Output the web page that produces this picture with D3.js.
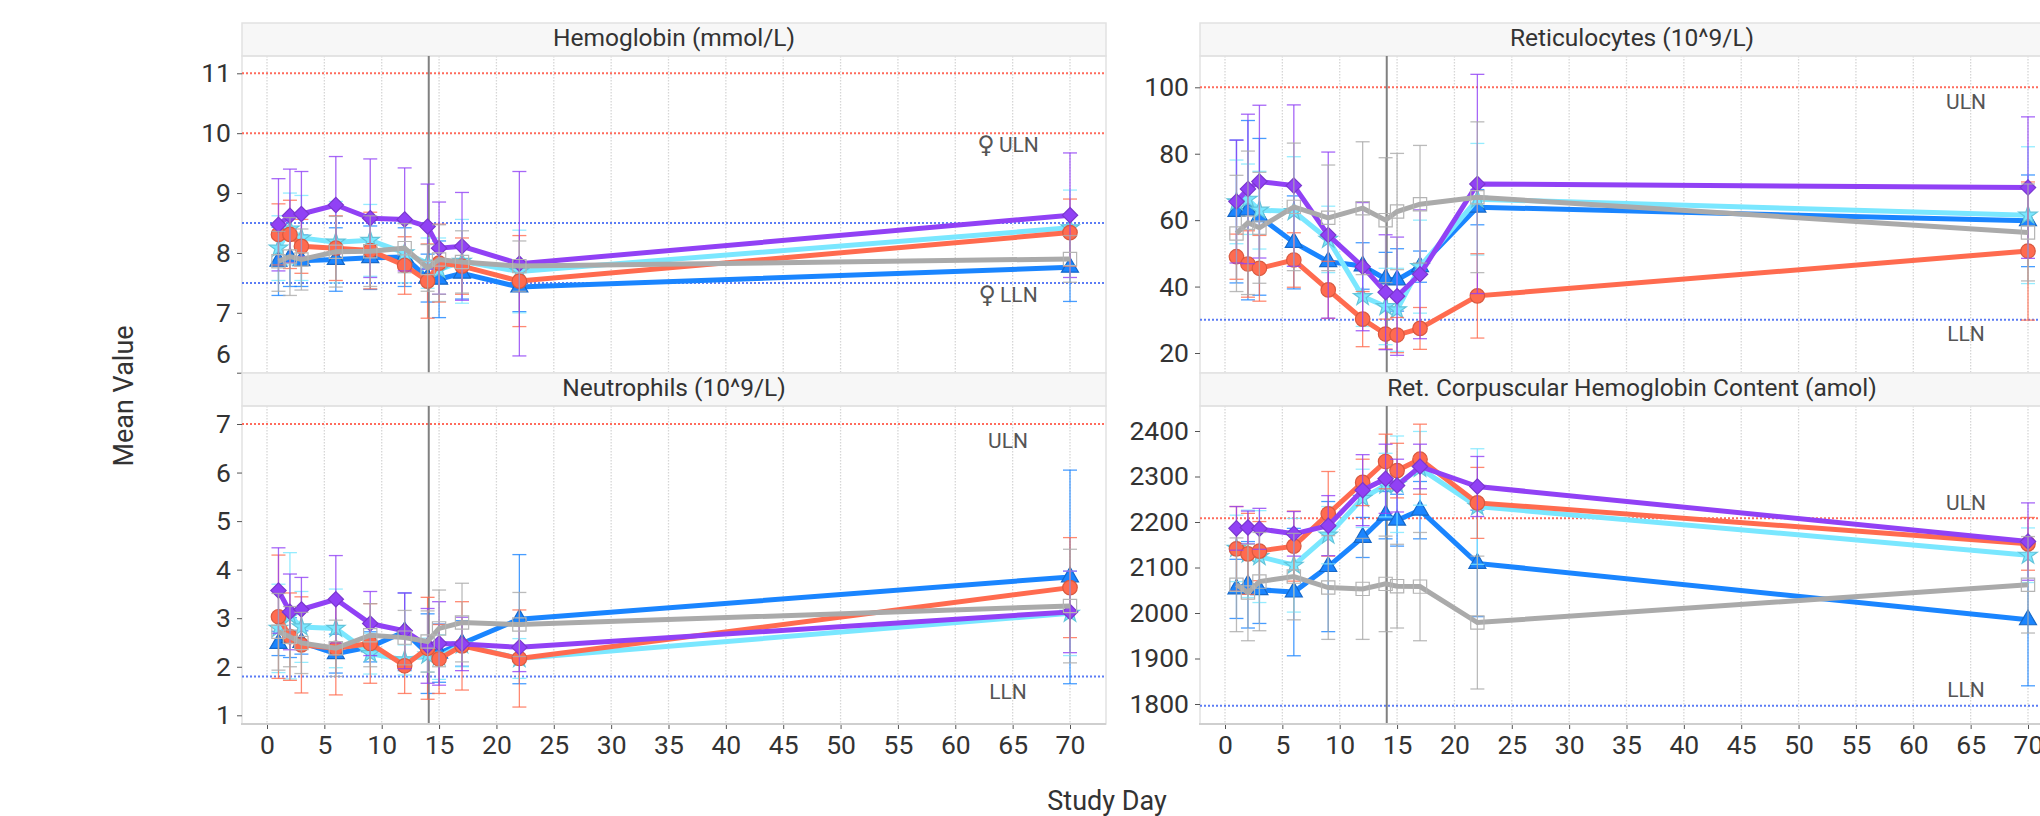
<!DOCTYPE html>
<html>
<head>
<meta charset="utf-8">
<script src="https://cdn.jsdelivr.net/npm/d3@7"></script>
<style>
html, body { margin: 0; padding: 0; background: #fff; overflow: hidden; }
text { font-family: Roboto, sans-serif; }
</style>
</head>
<body>
<div id="chart"></div>
<script>
let w = 2040; let h = 816;

const days = [1, 2, 3, 6, 9, 12, 14, 15, 17, 22, 70];
const xTicks = d3.range(0, 75, 5);

// hemoglobin
const hgbTicks = [6, 7, 8, 9, 10, 11];
const hgbBlue = [7.86, 7.92, 7.87, 7.89, 7.92, 7.93, 7.58, 7.56, 7.66, 7.43, 7.76];
const hgbBlueSd = [0.57, 0.48, 0.43, 0.53, 0.53, 0.49, 0.4, 0.64, 0.43, 0.41, 0.57];
const hgbCyan = [8.08, 8.4, 8.25, 8.18, 8.21, 8.0, 7.83, 7.72, 7.86, 7.69, 8.42];
const hgbCyanSd = [0.54, 0.6, 0.71, 0.68, 0.6, 0.5, 0.42, 0.53, 0.7, 0.69, 0.63];
const hgbRed = [8.31, 8.31, 8.11, 8.08, 8.04, 7.79, 7.53, 7.83, 7.78, 7.53, 8.34];
const hgbRedSd = [0.51, 0.57, 0.45, 0.54, 0.64, 0.48, 0.62, 0.65, 0.47, 0.76, 0.56];
const hgbPurple = [8.47, 8.62, 8.65, 8.8, 8.58, 8.56, 8.44, 8.08, 8.11, 7.82, 8.63];
const hgbPurpleSd = [0.77, 0.78, 0.71, 0.81, 0.99, 0.86, 0.71, 0.77, 0.9, 1.54, 1.04];
const hgbGray = [7.86, 7.94, 7.89, 8.02, 8.03, 8.08, 7.75, 7.89, 7.85, 7.78, 7.9];
const hgbGraySd = [0.5, 0.65, 0.51, 0.59, 0.59, 0.41, 0.39, 0.58, 0.52, 0.42, 0.39];

// reticulocytes
const retTicks = [20, 40, 60, 80, 100];
const retBlue = [62.6, 63, 61, 53.3, 47.5, 46.2, 42.3, 42, 46, 63.9, 59.8];
const retBlueSd = [21.5, 27, 23.6, 14, 8, 7, 8, 9.4, 4.7, 5.3, 13.8];
const retCyan = [65.5, 66.3, 63, 62.6, 54.2, 37, 34, 33, 46, 66.3, 61.5];
const retCyanSd = [12.6, 10.6, 11.7, 16.5, 10, 9, 11.5, 12.5, 14, 16.8, 20.6];
const retRed = [49, 46.8, 45.5, 48, 39, 30.2, 25.7, 25.4, 27.4, 37.2, 50.7];
const retRedSd = [6.8, 10, 9.9, 8.2, 8.6, 8.3, 4.5, 5.3, 6.3, 12.7, 20.8];
const retPurple = [65.6, 69.4, 71.6, 70.4, 55.5, 46, 38.3, 37.1, 43.7, 70.9, 69.8];
const retPurpleSd = [18.5, 22.5, 23, 24.3, 25, 19.3, 17.3, 17.8, 19.4, 33, 21.3];
const retGray = [56, 59.2, 57.7, 64, 60.7, 63.6, 60, 62.6, 64.8, 66.9, 56.3];
const retGraySd = [17.5, 21.6, 16.7, 19.2, 15.9, 20, 18.8, 17.5, 17.7, 22.7, 14.6];

// neutrophils
const neuTicks = [1, 2, 3, 4, 5, 6, 7];
const neuBlue = [2.48, 2.6, 2.5, 2.27, 2.41, 2.72, 2.27, 2.28, 2.48, 2.98, 3.85];
const neuBlueSd = [0.25, 0.41, 0.24, 0.4, 0.31, 0.8, 0.82, 0.6, 0.47, 1.33, 2.2];
const neuCyan = [2.79, 3.05, 2.82, 2.79, 2.27, 2.14, 2.24, 2.2, 2.45, 2.17, 3.1];
const neuCyanSd = [0.91, 1.3, 0.73, 0.81, 0.42, 0.31, 0.35, 0.46, 0.45, 0.41, 0.87];
const neuRed = [3.03, 2.62, 2.45, 2.38, 2.48, 2.02, 2.38, 2.16, 2.43, 2.17, 3.63];
const neuRedSd = [1.27, 0.9, 0.99, 0.96, 0.82, 0.57, 1.05, 0.71, 0.91, 1.0, 1.03];
const neuPurple = [3.57, 3.13, 3.18, 3.39, 2.89, 2.74, 2.43, 2.48, 2.47, 2.4, 3.13];
const neuPurpleSd = [0.88, 0.78, 0.66, 0.9, 0.66, 0.78, 0.77, 0.86, 0.55, 0.5, 0.84];
const neuGray = [2.72, 2.62, 2.49, 2.38, 2.65, 2.6, 2.52, 2.79, 2.91, 2.87, 3.25];
const neuGraySd = [0.79, 0.62, 0.63, 0.58, 0.65, 0.56, 0.63, 0.79, 0.81, 0.66, 1.17];

// ret. corpuscular hemoglobin content
const rchTicks = [1800, 1900, 2000, 2100, 2200, 2300, 2400];
const rchBlue = [2053, 2062, 2051, 2046, 2102, 2166, 2215, 2204, 2226, 2109, 1985];
const rchBlueSd = [65, 95, 74, 140, 143, 44, 52, 57, 63, 117, 145];
const rchCyan = [2142, 2130, 2124, 2105, 2171, 2252, 2281, 2283, 2318, 2234, 2127];
const rchCyanSd = [73, 96, 101, 103, 63, 64, 70, 106, 81, 127, 60];
const rchRed = [2141, 2130, 2136, 2147, 2218, 2287, 2333, 2313, 2338, 2242, 2152];
const rchRedSd = [93, 89, 65, 77, 93, 51, 60, 60, 77, 78, 58];
const rchPurple = [2186, 2188, 2185, 2174, 2192, 2270, 2295, 2280, 2322, 2278, 2157];
const rchPurpleSd = [48, 36, 45, 49, 66, 78, 76, 58, 49, 66, 85];
const rchGray = [2062, 2045, 2069, 2080, 2056, 2053, 2064, 2059, 2058, 1979, 2062];
const rchGraySd = [103, 106, 108, 95, 114, 111, 105, 92, 119, 146, 106];

// colours and markers, back to front
const looks = [
    {color: "#1a85ff", edge: "#1668c8", symbol: d3.symbolTriangle, size: 125},
    {color: "#7ae7ff", edge: "#62c4da", symbol: d3.symbolStar, size: 105},
    {color: "#ff6b4f", edge: "#d9593f", symbol: d3.symbolCircle, size: 165},
    {color: "#9141f5", edge: "#7a37cf", symbol: d3.symbolDiamond2, size: 150},
    {color: "#aaaaaa", edge: "#b4b4b4", symbol: d3.symbolSquare, size: 176, open: true}
];

const panels = [
    {title: "Hemoglobin (mmol/L)", left: 242, top: 56, bottom: 373, ticks: hgbTicks, y0: 372.7, y1: 73.3,
     means: [hgbBlue, hgbCyan, hgbRed, hgbPurple, hgbGray], sds: [hgbBlueSd, hgbCyanSd, hgbRedSd, hgbPurpleSd, hgbGraySd],
     uln: [11, 10], lln: [8.5, 7.5], ulnText: "♀ ULN", llnText: "♀ LLN", ulnAt: 10, llnAt: 7.5, ulnDy: 13, llnDy: 13},
    {title: "Reticulocytes (10^9/L)", left: 1200, top: 56, bottom: 373, ticks: retTicks, y0: 353, y1: 87.3,
     means: [retBlue, retCyan, retRed, retPurple, retGray], sds: [retBlueSd, retCyanSd, retRedSd, retPurpleSd, retGraySd],
     uln: [100], lln: [30], ulnText: "ULN", llnText: "LLN", ulnAt: 100, llnAt: 30, ulnDy: 16, llnDy: 16},
    {title: "Neutrophils (10^9/L)", left: 242, top: 406, bottom: 724, ticks: neuTicks, y0: 715.3, y1: 424,
     means: [neuBlue, neuCyan, neuRed, neuPurple, neuGray], sds: [neuBlueSd, neuCyanSd, neuRedSd, neuPurpleSd, neuGraySd],
     uln: [7], lln: [1.8], ulnText: "ULN", llnText: "LLN", ulnAt: 7, llnAt: 1.8, ulnDy: 18, llnDy: 17},
    {title: "Ret. Corpuscular Hemoglobin Content (amol)", left: 1200, top: 406, bottom: 724, ticks: rchTicks, y0: 704, y1: 431,
     means: [rchBlue, rchCyan, rchRed, rchPurple, rchGray], sds: [rchBlueSd, rchCyanSd, rchRedSd, rchPurpleSd, rchGraySd],
     uln: [2208], lln: [1796], ulnText: "ULN", llnText: "LLN", ulnAt: 2208, llnAt: 1796, ulnDy: -14, llnDy: -14}
];

let panelW = 864;
let stripH = 33;
let capW = 7;

//creating the svg canvas
let graph = d3.select("#chart").append("svg");
graph.attr("width", w).attr("height", h).style("display", "block");

panels.forEach((p, i) => drawPanel(p, i));

//axis titles
graph.append("text")
.attr("x", 1107)
.attr("y", 803)
.attr("text-anchor", "middle")
.attr("dominant-baseline", "middle")
.attr("font-size", "27px")
.attr("fill", "#333")
.text("Study Day");

graph.append("text")
.attr("transform", "translate(126, 396) rotate(-90)")
.attr("text-anchor", "middle")
.attr("dominant-baseline", "middle")
.attr("font-size", "27px")
.attr("fill", "#333")
.text("Mean Value");

// limit label, the female sign comes bigger from another font
function limitLabel(g, x, y, label){
    let t = g.append("text")
    .attr("x", x).attr("y", y)
    .attr("text-anchor", "middle").attr("dominant-baseline", "middle")
    .attr("font-size", "21px").attr("fill", "#555");
    if (label[0] == "♀") {
        t.append("tspan").attr("font-family", "DejaVu Sans").attr("font-size", "24px").text("♀");
        t.append("tspan").attr("dx", 4).text(label.slice(2));
    } else {
        t.text(label);
    }
}

function drawPanel(p, i){
    let xScale = d3.scaleLinear().domain([0, 70]).range([p.left + 25, p.left + 828]);
    let yScale = d3.scaleLinear().domain([p.ticks[0], p.ticks[p.ticks.length - 1]]).range([p.y0, p.y1]);
    let g = graph.append("g");

    //strip
    g.append("rect")
    .attr("x", p.left).attr("y", p.top - stripH)
    .attr("width", panelW).attr("height", stripH)
    .attr("fill", "#f7f7f7").attr("stroke", "#e2e2e2").attr("stroke-width", 1.5);

    g.append("text")
    .attr("x", p.left + panelW / 2).attr("y", p.top - stripH / 2)
    .attr("text-anchor", "middle").attr("dominant-baseline", "middle")
    .attr("font-size", "24.5px").attr("fill", "#333")
    .text(p.title);

    //grid
    g.selectAll(".grid").data(xTicks).enter().append("line")
    .attr("x1", d => xScale(d)).attr("x2", d => xScale(d))
    .attr("y1", p.top).attr("y2", p.bottom)
    .attr("stroke", "#d6d6d6").attr("stroke-width", 1.3).attr("stroke-dasharray", "1.5 1.5");

    //panel sides
    g.append("rect")
    .attr("x", p.left).attr("y", p.top)
    .attr("width", panelW).attr("height", p.bottom - p.top)
    .attr("fill", "none").attr("stroke", "#e2e2e2").attr("stroke-width", 1.5);

    //normal limits
    g.selectAll(".uln").data(p.uln).enter().append("line")
    .attr("x1", p.left).attr("x2", p.left + panelW)
    .attr("y1", d => yScale(d)).attr("y2", d => yScale(d))
    .attr("stroke", "#ff6b5c").attr("stroke-width", 2).attr("stroke-dasharray", "2 2");

    g.selectAll(".lln").data(p.lln).enter().append("line")
    .attr("x1", p.left).attr("x2", p.left + panelW)
    .attr("y1", d => yScale(d)).attr("y2", d => yScale(d))
    .attr("stroke", "#5b7cf5").attr("stroke-width", 2).attr("stroke-dasharray", "2 2");

    limitLabel(g, xScale(64.6), yScale(p.ulnAt) + p.ulnDy, p.ulnText);
    limitLabel(g, xScale(64.6), yScale(p.llnAt) + p.llnDy, p.llnText);

    //treatment day line
    g.append("line")
    .attr("x1", xScale(14.1)).attr("x2", xScale(14.1))
    .attr("y1", p.top).attr("y2", p.bottom)
    .attr("stroke", "#808080").attr("stroke-width", 2);

    //series
    let line = d3.line().x((d, o) => xScale(days[o])).y(d => yScale(d));

    p.means.forEach((mean, s) => {
        let look = looks[s];
        let sd = p.sds[s];
        let group = g.append("g");

        let bars = group.append("g")
        .attr("stroke", look.color).attr("stroke-width", 1.3).attr("stroke-opacity", 0.8);

        bars.selectAll(".stem").data(mean).enter().append("line")
        .attr("x1", (d, o) => xScale(days[o])).attr("x2", (d, o) => xScale(days[o]))
        .attr("y1", (d, o) => yScale(d - sd[o])).attr("y2", (d, o) => yScale(d + sd[o]));

        bars.selectAll(".hi").data(mean).enter().append("line")
        .attr("x1", (d, o) => xScale(days[o]) - capW).attr("x2", (d, o) => xScale(days[o]) + capW)
        .attr("y1", (d, o) => yScale(d + sd[o])).attr("y2", (d, o) => yScale(d + sd[o]));

        bars.selectAll(".lo").data(mean).enter().append("line")
        .attr("x1", (d, o) => xScale(days[o]) - capW).attr("x2", (d, o) => xScale(days[o]) + capW)
        .attr("y1", (d, o) => yScale(d - sd[o])).attr("y2", (d, o) => yScale(d - sd[o]));

        group.append("path")
        .attr("d", line(mean))
        .attr("fill", "none").attr("stroke", look.color).attr("stroke-width", 5);

        group.selectAll(".mark").data(mean).enter().append("path")
        .attr("d", d3.symbol().type(look.symbol).size(look.size))
        .attr("transform", (d, o) => "translate(" + xScale(days[o]) + "," + yScale(d) + ")")
        .attr("fill", look.open ? "none" : look.color)
        .attr("stroke", look.edge).attr("stroke-width", 1.2);
    });

    //axes
    let yAxis = g.append("g")
    .attr("transform", "translate(" + p.left + ",0)")
    .call(d3.axisLeft(yScale).tickValues(p.ticks).tickSize(5).tickPadding(6).tickFormat(d3.format("d")));
    yAxis.select(".domain").remove();
    yAxis.selectAll("text").attr("font-size", "26.5px").attr("fill", "#333").attr("font-family", "Roboto");
    yAxis.selectAll("line").attr("stroke", "#555");

    //bottom hemoglobin label sits clear of the strip below
    if (i == 0) yAxis.selectAll("text").filter(d => d == 6).attr("y", -19);

    if (i >= 2) {
        let xAxis = g.append("g")
        .attr("transform", "translate(0," + p.bottom + ")")
        .call(d3.axisBottom(xScale).tickValues(xTicks).tickSize(5).tickPadding(6));
        xAxis.select(".domain").remove();
        xAxis.selectAll("text").attr("font-size", "26.5px").attr("fill", "#333").attr("font-family", "Roboto");
        xAxis.selectAll("line").attr("stroke", "#555");

        g.append("line")
        .attr("x1", p.left - 1).attr("x2", p.left + panelW)
        .attr("y1", p.bottom).attr("y2", p.bottom)
        .attr("stroke", "#cfcfcf").attr("stroke-width", 2);
    }
}
</script>
</body>
</html>
